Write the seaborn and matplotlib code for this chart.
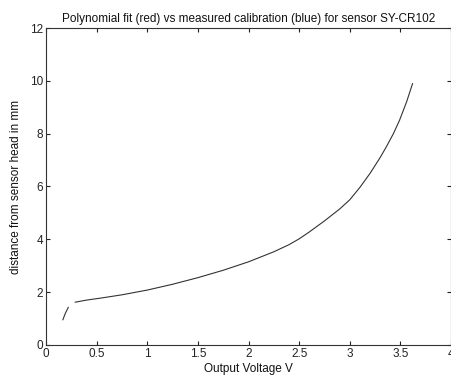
import matplotlib
matplotlib.use("Agg")
import matplotlib.pyplot as plt
import seaborn as sns
import numpy as np
import pandas as pd

voltage = [0.165, 0.19, 0.22, np.nan, 0.286, 0.4, 0.53, 0.75, 1.0, 1.25, 1.5, 1.75,
           2.0, 2.25, 2.4, 2.5, 2.6, 2.75, 2.9, 3.0, 3.1, 3.2, 3.3, 3.36, 3.43,
           3.49, 3.53, 3.56, 3.59, 3.62]
distance = [0.95, 1.2, 1.43, np.nan, 1.62, 1.7, 1.77, 1.9, 2.08, 2.3, 2.55, 2.83,
            3.15, 3.53, 3.8, 4.02, 4.28, 4.7, 5.15, 5.5, 5.97, 6.5, 7.1, 7.5, 8.0,
            8.5, 8.9, 9.2, 9.55, 9.9]

title = "Polynomial fit (red) vs measured calibration (blue) for sensor SY-CR102"
xlabel = "Output Voltage V"
ylabel = "distance from sensor head in mm"
xticks = [0, 0.5, 1, 1.5, 2, 2.5, 3, 3.5, 4]
xticklabels = ["0", "0.5", "1", "1.5", "2", "2.5", "3", "3.5", "4"]
yticks = [0, 2, 4, 6, 8, 10, 12]

sns.set_style("ticks")
plt.rcParams['font.family'] = ['Liberation Sans', 'DejaVu Sans']

fig = plt.figure(figsize=(4.52, 3.81), dpi=100)
ax = fig.add_axes([0.102, 0.0945, 0.896, 0.832])

df = pd.DataFrame({"v": voltage, "d": distance})
ax.plot(df["v"], df["d"], color="#333333", lw=0.8)

ax.set_xlim(0, 4)
ax.set_ylim(0, 12)
ax.set_xticks(xticks)
ax.set_xticklabels(xticklabels)
ax.set_yticks(yticks)
ax.tick_params(direction="in", length=3, width=0.8, labelsize=8.5, top=True, right=True,
               colors="#222222", pad=2)
for s in ax.spines.values():
    s.set_visible(True)
    s.set_linewidth(0.8)
    s.set_color("#333333")
ax.set_title(title, fontsize=8.5, pad=4, color="#111111")
ax.set_xlabel(xlabel, fontsize=8.5, labelpad=2, color="#111111")
ax.set_ylabel(ylabel, fontsize=8.5, labelpad=6, color="#111111")

fig.savefig("out.png", dpi=100)
